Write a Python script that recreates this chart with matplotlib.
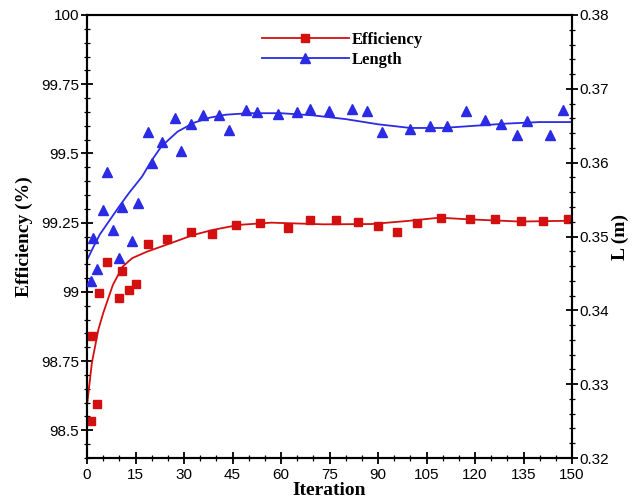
#
# Efficiency / Length vs Iteration (two y axes)
#

import matplotlib
matplotlib.use('Agg')
import matplotlib.pyplot as plt
from matplotlib.ticker import MultipleLocator, FormatStrFormatter, FuncFormatter
from matplotlib.lines import Line2D

# --- data ---
eff_iter = [1.1, 1.5, 3.0, 3.8, 6.1, 10.0, 10.9, 13.0, 15.1, 19.0, 24.8, 32.1, 38.8,
            46.1, 53.5, 62.3, 69.0, 77.0, 83.9, 89.9, 96.0, 102.0, 109.5, 118.3,
            126.2, 134.1, 141.1, 148.9]
eff_val = [98.535, 98.839, 98.596, 98.995, 99.107, 98.979, 99.077, 99.007, 99.029,
           99.172, 99.191, 99.218, 99.209, 99.242, 99.247, 99.230, 99.260, 99.260,
           99.254, 99.239, 99.216, 99.250, 99.266, 99.262, 99.264, 99.256, 99.256,
           99.262]

eff_fit_iter = [0, 1.5, 3.5, 5, 8, 11, 14, 18.5, 24.5, 33, 39, 47, 57, 73, 88, 99,
                109, 118, 134, 150]
eff_fit_val = [98.59, 98.743, 98.863, 98.923, 99.025, 99.091, 99.122, 99.145, 99.170,
               99.206, 99.224, 99.242, 99.250, 99.244, 99.245, 99.256, 99.268, 99.262,
               99.254, 99.257]

len_iter = [1.1, 2.0, 3.2, 5.0, 6.1, 8.1, 10.0, 10.7, 13.9, 15.9, 19.0, 20.0, 23.1,
            27.2, 29.1, 32.1, 36.0, 40.9, 44.0, 49.2, 52.7, 59.2, 65.0, 69.0, 74.9,
            82.1, 86.5, 91.1, 99.9, 106.1, 111.3, 117.2, 123.1, 128.0, 133.1, 136.2,
            143.2, 147.1]
len_val = [0.3440, 0.3498, 0.3456, 0.3536, 0.3588, 0.3509, 0.3471, 0.3540, 0.3494,
           0.3546, 0.3641, 0.3600, 0.3628, 0.3660, 0.3616, 0.3653, 0.3664, 0.3665,
           0.3644, 0.3672, 0.3668, 0.3666, 0.3668, 0.3673, 0.3670, 0.3673, 0.3670,
           0.3642, 0.3646, 0.3650, 0.3649, 0.3670, 0.3658, 0.3652, 0.3637, 0.3656,
           0.3638, 0.3672]

len_fit_iter = [0, 2, 4, 7, 10, 13, 17, 20, 23, 28, 33, 38, 43, 50, 60, 70, 80, 90,
                100, 110, 120, 130, 140, 150]
len_fit_val = [0.3468, 0.3486, 0.3503, 0.3522, 0.3541, 0.3559, 0.3581, 0.3603, 0.3622,
               0.3642, 0.3654, 0.3661, 0.3665, 0.3667, 0.3667, 0.3664, 0.3659, 0.3652,
               0.3647, 0.3647, 0.3650, 0.3653, 0.3655, 0.3655]

RED = '#d40f0f'
BLUE = '#2b2be6'
SERIF = ['Liberation Serif', 'DejaVu Serif']
SANS = ['Liberation Sans', 'DejaVu Sans']

plt.rcParams['font.family'] = SANS

fig = plt.figure(figsize=(6.34, 5.04), dpi=100)
ax1 = fig.add_axes([87/634, 1-458/504, (572-87)/634, (458-15)/504])
ax2 = ax1.twinx()

ax1.plot(eff_fit_iter, eff_fit_val, color=RED, lw=1.3, zorder=2)
ax1.plot(eff_iter, eff_val, ls='none', marker='s', ms=5.5, color=RED, zorder=3)
ax2.plot(len_fit_iter, len_fit_val, color=BLUE, lw=1.3, zorder=2)
ax2.plot(len_iter, len_val, ls='none', marker='^', ms=7, color=BLUE, zorder=3)

ax1.set_xlim(0, 150)
ax1.set_ylim(98.4, 100)
ax2.set_ylim(0.32, 0.38)

ax1.xaxis.set_major_locator(MultipleLocator(15))
ax1.xaxis.set_minor_locator(MultipleLocator(5))
ax1.yaxis.set_major_locator(MultipleLocator(0.25))
ax1.yaxis.set_minor_locator(MultipleLocator(0.05))
ax1.yaxis.set_major_formatter(FuncFormatter(lambda y, p: '{:g}'.format(round(y, 2))))
ax2.yaxis.set_major_locator(MultipleLocator(0.01))
ax2.yaxis.set_minor_locator(MultipleLocator(0.002))
ax2.yaxis.set_major_formatter(FormatStrFormatter('%.2f'))

for ax in (ax1, ax2):
    ax.tick_params(which='major', direction='inout', length=9, width=1.3,
                   labelsize=11, pad=1)
    ax.tick_params(which='minor', direction='inout', length=5, width=0.9)
    for s in ax.spines.values():
        s.set_linewidth(1.5)
ax1.tick_params(axis='y', right=False)
ax1.tick_params(axis='x', top=False, pad=3)
ax2.tick_params(axis='y', left=False)

ax1.set_xlabel('Iteration', family=SERIF, weight='bold', fontsize=14, labelpad=0)
ax1.set_ylabel('Efficiency (%)', family=SERIF, weight='bold', fontsize=14, labelpad=6)
ax2.set_ylabel('L (m)', family=SERIF, weight='bold', fontsize=14, labelpad=2)

h1 = Line2D([], [], color=RED, lw=1.3, marker='s', ms=5.5)
h2 = Line2D([], [], color=BLUE, lw=1.3, marker='^', ms=7)
fig.legend([h1, h2], ['Efficiency', 'Length'], loc='upper left',
           bbox_to_anchor=(247/634, 1-17/504), frameon=False, numpoints=1,
           handlelength=5.2, handletextpad=0.2, labelspacing=0.25,
           prop={'family': SERIF, 'weight': 'bold', 'size': 12})

fig.savefig('out.png', dpi=100)
